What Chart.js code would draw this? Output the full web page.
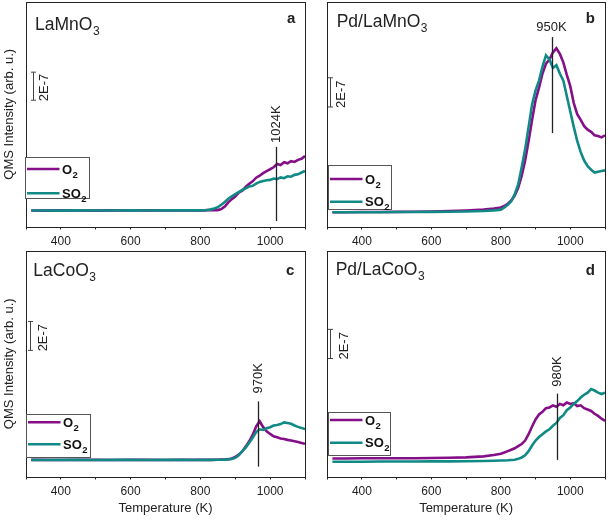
<!DOCTYPE html>
<html lang="en">
<head>
<meta charset="UTF-8">
<title>QMS O2 / SO2 traces</title>
<script src="https://cdn.jsdelivr.net/npm/chart.js@4.4.1/dist/chart.umd.min.js"></script>
<style>
  body { margin: 0; background: #fff; }
  #wrap { position: relative; width: 610px; height: 520px; }
  canvas { position: absolute; }
</style>
</head>
<body>
<div id="wrap">
  <canvas id="pa" width="310" height="250" style="left:0;top:0"></canvas>
  <canvas id="pb" width="305" height="250" style="left:305px;top:0"></canvas>
  <canvas id="pc" width="310" height="280" style="left:0;top:240px"></canvas>
  <canvas id="pd" width="305" height="280" style="left:305px;top:240px"></canvas>
</div>
<script>
// temperature grid (K), shared by all traces
const temps = [315, 350, 400, 450, 500, 550, 600, 650, 700, 750, 780,
  800, 810, 820, 830, 840, 850, 860, 870, 880, 890, 900, 910, 920, 930, 940, 950, 960, 970, 980, 990,
  1000, 1010, 1020, 1030, 1040, 1050, 1060, 1070, 1080, 1090, 1100];

// intensities in units of 1E-7 (arb. offset)
const aO2 = [1.14, 1.13, 1.15, 1.14, 1.13, 1.15, 1.14, 1.15, 1.14, 1.16, 1.15,
  1.16, 1.15, 1.17, 1.16, 1.18, 1.17, 1.24, 1.42, 1.72, 1.95, 2.14, 2.42, 2.55, 2.82, 3.05, 3.22, 3.48, 3.62, 3.8, 3.95,
  4.08, 4.22, 4.45, 4.38, 4.58, 4.5, 4.66, 4.6, 4.75, 4.82, 5.02];
const aSO2 = [1.14, 1.14, 1.13, 1.15, 1.14, 1.14, 1.15, 1.14, 1.15, 1.15, 1.16,
  1.15, 1.16, 1.18, 1.22, 1.28, 1.38, 1.55, 1.75, 1.98, 2.15, 2.3, 2.45, 2.6, 2.72, 2.85, 2.9, 3.05, 3.18, 3.25, 3.3,
  3.32, 3.42, 3.38, 3.5, 3.44, 3.58, 3.55, 3.68, 3.72, 3.85, 3.95];

const bO2 = [1.02, 1.02, 1.03, 1.03, 1.04, 1.05, 1.07, 1.1, 1.14, 1.2, 1.28,
  1.36, 1.46, 1.62, 1.85, 2.2, 2.75, 3.6, 4.7, 6.1, 7.6, 9.0, 9.9, 10.9, 11.6, 11.9, 12.4, 12.7, 12.3, 11.7, 10.8,
  10.0, 8.8, 8.0, 7.6, 7.15, 6.9, 6.75, 6.5, 6.45, 6.35, 6.5];
const bSO2 = [1.02, 1.02, 1.02, 1.02, 1.03, 1.03, 1.04, 1.05, 1.07, 1.1, 1.15,
  1.2, 1.35, 1.55, 1.8, 2.3, 3.0, 4.2, 5.5, 7.1, 8.7, 9.7, 10.4, 11.4, 12.2, 11.9, 11.3, 11.5, 10.9, 10.4, 9.3,
  8.2, 7.1, 6.1, 5.3, 4.7, 4.3, 4.05, 3.85, 3.9, 3.95, 4.0];

const cO2 = [1.18, 1.18, 1.17, 1.18, 1.18, 1.17, 1.18, 1.18, 1.17, 1.18, 1.18,
  1.18, 1.18, 1.19, 1.18, 1.19, 1.19, 1.2, 1.21, 1.23, 1.28, 1.38, 1.55, 1.78, 2.12, 2.5, 2.95, 3.55, 3.92, 3.5, 3.2,
  3.02, 2.85, 2.78, 2.7, 2.66, 2.6, 2.55, 2.5, 2.44, 2.38, 2.32];
const cSO2 = [1.18, 1.17, 1.18, 1.18, 1.17, 1.18, 1.18, 1.17, 1.18, 1.18, 1.17,
  1.18, 1.18, 1.18, 1.19, 1.18, 1.19, 1.19, 1.2, 1.21, 1.25, 1.32, 1.5, 1.8, 2.05, 2.4, 2.75, 3.15, 3.35, 3.3, 3.42,
  3.5, 3.62, 3.66, 3.72, 3.84, 3.8, 3.74, 3.62, 3.52, 3.45, 3.36];

const dO2 = [1.28, 1.28, 1.29, 1.29, 1.3, 1.3, 1.31, 1.33, 1.36, 1.43, 1.52,
  1.62, 1.7, 1.8, 1.9, 2.0, 2.15, 2.3, 2.55, 3.0, 3.55, 4.05, 4.4, 4.6, 4.85, 4.9, 5.05, 4.95, 5.15, 5.05, 5.25,
  5.15, 5.2, 5.0, 5.05, 4.85, 4.75, 4.65, 4.45, 4.3, 4.1, 3.95];
const dSO2 = [1.05, 1.05, 1.05, 1.06, 1.06, 1.06, 1.07, 1.07, 1.08, 1.1, 1.12,
  1.13, 1.14, 1.15, 1.17, 1.19, 1.25, 1.35, 1.5, 1.8, 2.2, 2.55, 2.8, 3.0, 3.2, 3.35, 3.6, 3.8, 4.15, 4.35, 4.7,
  4.9, 5.15, 5.35, 5.6, 5.8, 5.95, 6.2, 6.1, 5.95, 5.85, 5.95];

const gases = ['O2', 'SO2'];
const xTicks = [400, 600, 800, 1000];

const PURPLE = '#850f88';
const TEAL = '#118a86';
const FONT = '"Liberation Sans", Arial, sans-serif';

Chart.defaults.font.family = FONT;
Chart.defaults.color = '#222';

// per-panel annotations (offsets in px from the plot area, levels in data units)
const panels = {
  pa: { title: ['LaMnO', '3'], titleAt: [9, 28], letter: 'a', letterAt: [9.7, 21],
        bar: { dx: 6.7, lo: 9.0, hi: 11.0, tx: 10.6 },
        mark: { at: 1017, lo: 0.39, hi: 5.67, label: '1024K', rotate: true, gap: 4 },
        legend: { dx: -1, dy: 154.7, w: 64, h: 40.6, rows: [167, 191.3] } },
  pb: { title: ['Pd/LaMnO', '3'], titleAt: [9.5, 25.3], letter: 'b', letterAt: [10.2, 21.3],
        bar: { dx: 2.8, lo: 8.52, hi: 10.6, tx: 10.7 },
        mark: { at: 947, lo: 6.66, hi: 13.5, label: '950K', rotate: false, gap: 6 },
        legend: { dx: 1.1, dy: 163, w: 62.7, h: 44.3, rows: [177, 199.7] } },
  pc: { title: ['LaCoO', '3'], titleAt: [7.3, 25], letter: 'c', letterAt: [10.7, 24],
        bar: { dx: 4, lo: 8.95, hi: 11.0, tx: 12.7 },
        mark: { at: 965, lo: 0.7, hi: 5.33, label: '970K', rotate: true, gap: 8 },
        legend: { dx: 0, dy: 163, w: 64, h: 42.7, rows: [171.3, 193.3] } },
  pd: { title: ['Pd/LaCoO', '3'], titleAt: [8.5, 24], letter: 'd', letterAt: [10.2, 24],
        bar: { dx: 2.8, lo: 8.37, hi: 10.44, tx: 14.3 },
        mark: { at: 962, lo: 1.18, hi: 5.88, label: '980K', rotate: true, gap: 7 },
        legend: { dx: 0.5, dy: 160.7, w: 62.3, h: 43.3, rows: [169, 191.7] } }
};

const decor = {
  id: 'decor',
  afterDatasetsDraw(chart) {
    const p = panels[chart.canvas.id];
    const { ctx, chartArea: a, scales: { x, y } } = chart;
    ctx.save();

    // box around plot area
    const l = Math.round(a.left) + 0.5, t = Math.round(a.top) + 0.5;
    ctx.strokeStyle = '#222';
    ctx.lineWidth = 1;
    ctx.strokeRect(l, t, Math.round(a.right) - Math.round(a.left), Math.round(a.bottom) - Math.round(a.top));

    // sample name with subscript
    ctx.fillStyle = '#222';
    ctx.textAlign = 'left';
    ctx.textBaseline = 'alphabetic';
    ctx.font = '17.5px ' + FONT;
    const tx = a.left + p.titleAt[0], ty = a.top + p.titleAt[1];
    ctx.fillText(p.title[0], tx, ty);
    const tw = ctx.measureText(p.title[0]).width;
    ctx.font = '12px ' + FONT;
    ctx.fillText(p.title[1], tx + tw + 0.5, ty + 5);

    // panel letter
    ctx.font = 'bold 15px ' + FONT;
    ctx.textAlign = 'right';
    ctx.fillText(p.letter, a.right - p.letterAt[0], a.top + p.letterAt[1]);

    // 2E-7 scale bar
    const bx = Math.round(a.left + p.bar.dx) + 0.5;
    const b1 = y.getPixelForValue(p.bar.lo), b2 = y.getPixelForValue(p.bar.hi);
    ctx.strokeStyle = '#444';
    ctx.lineWidth = 1;
    ctx.beginPath();
    ctx.moveTo(bx, b1); ctx.lineTo(bx, b2);
    ctx.moveTo(bx - 2.5, b1); ctx.lineTo(bx + 2.5, b1);
    ctx.moveTo(bx - 2.5, b2); ctx.lineTo(bx + 2.5, b2);
    ctx.stroke();
    ctx.save();
    ctx.translate(bx + p.bar.tx, b1 + 1);
    ctx.rotate(-Math.PI / 2);
    ctx.font = '13px ' + FONT;
    ctx.textAlign = 'left';
    ctx.textBaseline = 'middle';
    ctx.fillText('2E-7', 0, 0);
    ctx.restore();

    // peak marker
    const mx = Math.round(x.getPixelForValue(p.mark.at)) + 0.5;
    const m1 = y.getPixelForValue(p.mark.lo), m2 = y.getPixelForValue(p.mark.hi);
    ctx.strokeStyle = '#222';
    ctx.lineWidth = 1.3;
    ctx.beginPath();
    ctx.moveTo(mx, m1); ctx.lineTo(mx, m2);
    ctx.stroke();
    ctx.fillStyle = '#222';
    ctx.font = '13px ' + FONT;
    if (p.mark.rotate) {
      ctx.save();
      ctx.translate(mx, m2 - p.mark.gap);
      ctx.rotate(-Math.PI / 2);
      ctx.textAlign = 'left';
      ctx.textBaseline = 'middle';
      ctx.fillText(p.mark.label, 0, 0);
      ctx.restore();
    } else {
      ctx.textAlign = 'center';
      ctx.textBaseline = 'alphabetic';
      ctx.fillText(p.mark.label, mx - 1, m2 - p.mark.gap);
    }

    // legend box
    const L = p.legend;
    const lx = Math.round(a.left + L.dx) + 0.5, ly = Math.round(a.top + L.dy) + 0.5;
    ctx.fillStyle = '#fff';
    ctx.fillRect(lx, ly, L.w, L.h);
    ctx.strokeStyle = '#555';
    ctx.lineWidth = 1;
    ctx.strokeRect(lx, ly, Math.round(L.w), Math.round(L.h));
    chart.data.datasets.forEach((ds, i) => {
      const ry = a.top + L.rows[i];
      ctx.strokeStyle = ds.borderColor;
      ctx.lineWidth = 2.5;
      ctx.beginPath();
      ctx.moveTo(lx + 1.5, ry); ctx.lineTo(lx + 34, ry);
      ctx.stroke();
      const m = ds.label.match(/^(\D+)(\d+)$/);
      ctx.fillStyle = '#111';
      ctx.textAlign = 'left';
      ctx.textBaseline = 'alphabetic';
      ctx.font = 'bold 13px ' + FONT;
      ctx.fillText(m[1], lx + 36.5, ry + 4.5);
      const w = ctx.measureText(m[1]).width;
      ctx.font = 'bold 9.5px ' + FONT;
      ctx.fillText(m[2], lx + 36.5 + w + 0.5, ry + 8.5);
    });

    ctx.restore();
  }
};

function makePanel(id, o2, so2, opt) {
  const pts = arr => temps.map((t, i) => ({ x: t, y: arr[i] }));
  new Chart(document.getElementById(id), {
    type: 'line',
    data: {
      datasets: [
        { label: gases[0], data: pts(o2), borderColor: PURPLE, borderWidth: 2.6, pointRadius: 0, order: 1 },
        { label: gases[1], data: pts(so2), borderColor: TEAL, borderWidth: 2.6, pointRadius: 0, order: 0 }
      ]
    },
    options: {
      responsive: false,
      animation: false,
      layout: { padding: { left: 0, top: opt.top, right: opt.right, bottom: 0 } },
      plugins: { legend: { display: false }, tooltip: { enabled: false } },
      scales: {
        x: {
          type: 'linear', min: 300, max: 1100,
          ticks: {
            stepSize: 100, autoSkip: false, maxRotation: 0, padding: 5,
            font: { size: 12 }, color: '#222',
            callback: v => (xTicks.includes(v) ? String(v) : '')
          },
          grid: { display: true, drawOnChartArea: false, drawTicks: true, tickLength: 3, color: '#222' },
          border: { display: false },
          title: { display: opt.xTitle, text: 'Temperature (K)', font: { size: 13 }, color: '#222',
                   padding: { top: 0, bottom: 4 } },
          afterFit: s => { s.height = opt.xh; }
        },
        y: {
          min: 0, max: 16,
          ticks: { display: false },
          grid: { display: false },
          border: { display: false },
          title: { display: opt.yTitle, text: 'QMS Intensity (arb. u.)', font: { size: 13 }, color: '#222',
                   padding: { top: 2, bottom: 0 } },
          afterFit: s => { s.width = opt.yw; }
        }
      }
    },
    plugins: [decor]
  });
}

makePanel('pa', aO2, aSO2, { top: 2, right: 3.3, xh: 23.5, yw: 26, xTitle: false, yTitle: true });
makePanel('pb', bO2, bSO2, { top: 2, right: 1.5, xh: 23.5, yw: 22.2, xTitle: false, yTitle: false });
makePanel('pc', cO2, cSO2, { top: 11, right: 3.3, xh: 43.5, yw: 26, xTitle: true, yTitle: true });
makePanel('pd', dO2, dSO2, { top: 11, right: 1.5, xh: 43.5, yw: 22.2, xTitle: true, yTitle: false });
</script>
</body>
</html>
